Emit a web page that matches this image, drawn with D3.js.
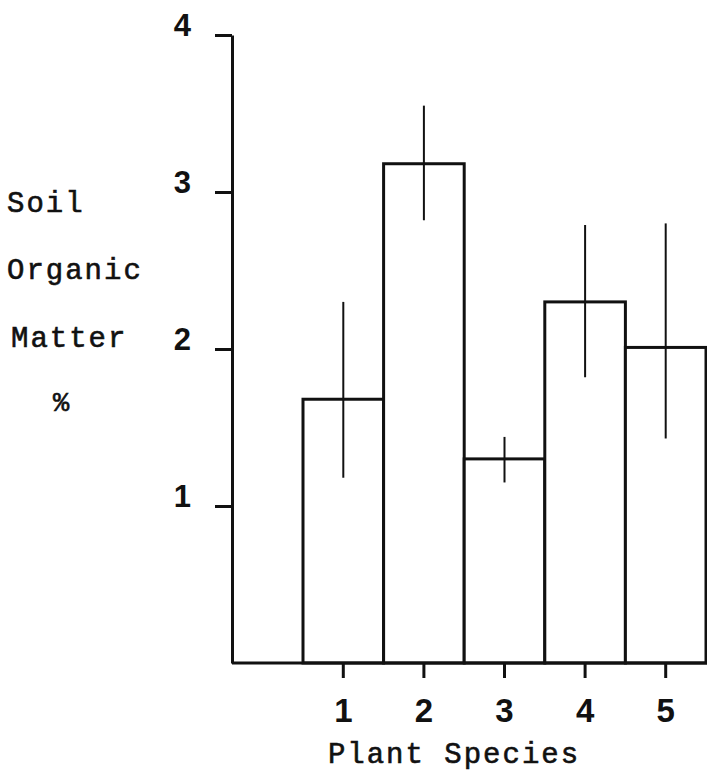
<!DOCTYPE html>
<html>
<head>
<meta charset="utf-8">
<script src="https://cdn.jsdelivr.net/npm/d3@7"></script>
<style>
  html, body { margin: 0; padding: 0; background: #fff; }
  svg { display: block; }
  .mono { font-family: "Liberation Mono", "DejaVu Sans Mono", monospace; font-size: 29px; letter-spacing: 2px; fill: #111; stroke: #111; stroke-width: 0.6px; }
  .num { font-family: "Liberation Sans", Arial, sans-serif; font-weight: bold; fill: #111; }
</style>
</head>
<body>
<svg id="chart" width="707" height="773"></svg>
<script>
// Soil organic matter (%) under five plant species, with error bars
const species = ["1", "2", "3", "4", "5"];
const meanOM = [1.68, 3.18, 1.30, 2.30, 2.01];
const errLow = [1.18, 2.82, 1.15, 1.82, 1.43];
const errHigh = [2.30, 3.55, 1.44, 2.79, 2.80];
const yTicks = [1, 2, 3, 4];

const svg = d3.select("#chart");
const ink = "#111";

const axisLeftX = 232;
const y = d3.scaleLinear().domain([0, 4]).range([663, 35]);
const x = d3.scaleBand().domain(species).range([303, 706]).paddingInner(0).paddingOuter(0);

// bars
svg.append("g").selectAll("rect")
  .data(species)
  .join("rect")
  .attr("x", d => x(d))
  .attr("y", (d, i) => y(meanOM[i]))
  .attr("width", x.bandwidth())
  .attr("height", (d, i) => y(0) - y(meanOM[i]))
  .attr("fill", "#fff")
  .attr("stroke", ink)
  .attr("stroke-width", 3);

// error bars
svg.append("g").selectAll("line")
  .data(species)
  .join("line")
  .attr("x1", d => x(d) + x.bandwidth() / 2)
  .attr("x2", d => x(d) + x.bandwidth() / 2)
  .attr("y1", (d, i) => y(errLow[i]))
  .attr("y2", (d, i) => y(errHigh[i]))
  .attr("stroke", ink)
  .attr("stroke-width", 2);

// y axis
const yAxis = svg.append("g")
  .attr("transform", `translate(${axisLeftX},0)`)
  .call(d3.axisLeft(y).tickValues(yTicks).tickFormat(d3.format("d"))
    .tickSize(17).tickSizeOuter(0).tickPadding(24));
yAxis.select(".domain").attr("stroke", ink).attr("stroke-width", 3);
yAxis.selectAll(".tick line").attr("stroke", ink).attr("stroke-width", 3);
yAxis.selectAll(".tick text")
  .attr("class", "num")
  .attr("font-size", 31)
  .attr("dy", null)
  .attr("y", 0);

// x axis baseline
svg.append("line")
  .attr("x1", axisLeftX).attr("x2", 707)
  .attr("y1", y(0)).attr("y2", y(0))
  .attr("stroke", ink).attr("stroke-width", 3);

const xAxis = svg.append("g")
  .attr("transform", `translate(0,${y(0)})`)
  .call(d3.axisBottom(x).tickSize(15).tickSizeOuter(0).tickPadding(24));
xAxis.select(".domain").remove();
xAxis.selectAll(".tick line").attr("stroke", ink).attr("stroke-width", 3);
xAxis.selectAll(".tick text")
  .attr("class", "num")
  .attr("font-size", 33)
  .attr("dy", null)
  .attr("y", 59);

// axis titles
svg.append("text").attr("class", "mono").attr("x", 7).attr("y", 212).text("Soil");
svg.append("text").attr("class", "mono").attr("x", 7).attr("y", 279).text("Organic");
svg.append("text").attr("class", "mono").attr("x", 11).attr("y", 347).text("Matter");
svg.append("text").attr("class", "mono").attr("x", 61).attr("y", 411)
  .attr("text-anchor", "middle").style("font-size", "27px").style("letter-spacing", "0px").text("%");
svg.append("text").attr("class", "mono").attr("x", 454).attr("y", 763)
  .attr("text-anchor", "middle").text("Plant Species");
</script>
</body>
</html>
